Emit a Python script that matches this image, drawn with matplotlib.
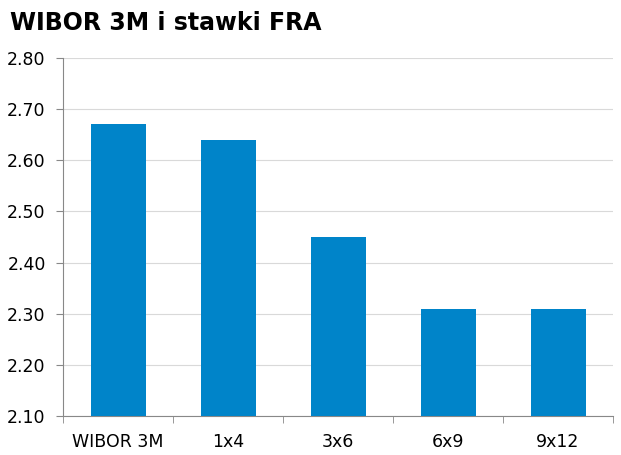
import matplotlib
matplotlib.use("Agg")
import matplotlib.pyplot as plt
import numpy as np

categories = ["WIBOR 3M", "1x4", "3x6", "6x9", "9x12"]
values = [2.67, 2.64, 2.45, 2.31, 2.31]
yticks = [2.10, 2.20, 2.30, 2.40, 2.50, 2.60, 2.70, 2.80]
title = "WIBOR 3M i stawki FRA"

plt.rcParams['font.family'] = ['DejaVu Sans']
fig = plt.figure(figsize=(6.21, 4.55), dpi=100)
ax = fig.add_axes([63/621, 1-416/455, 550/621, 358/455])

x = np.arange(len(categories))
ax.bar(x, values, width=0.5, color="#0084C9", zorder=3)
ax.set_ylim(2.10, 2.80)
ax.set_xlim(-0.5, len(categories)-0.5)
ax.set_yticks(yticks)
ax.set_yticklabels([f"{v:.2f}" for v in yticks], fontsize=12.5)
ax.set_xticks(x)
ax.set_xticklabels(categories, fontsize=12.5)
ax.set_xticks(np.arange(len(categories)+1)-0.5, minor=True)
ax.tick_params(axis='x', which='major', length=0, pad=12.5)
ax.tick_params(axis='x', which='minor', length=5, color="#888888", direction='out')
ax.tick_params(axis='y', length=5, color="#888888", pad=7.5)
ax.grid(axis='y', color="#d9d9d9", linewidth=0.8, zorder=0)
for s in ['top', 'right']:
    ax.spines[s].set_visible(False)
for s in ['left', 'bottom']:
    ax.spines[s].set_color("#888888")
    ax.spines[s].set_linewidth(0.8)

fig.text(10/621, 1-23.5/455, title, fontsize=17, fontweight='bold', va='center', ha='left')
fig.savefig("out.png", dpi=100)
